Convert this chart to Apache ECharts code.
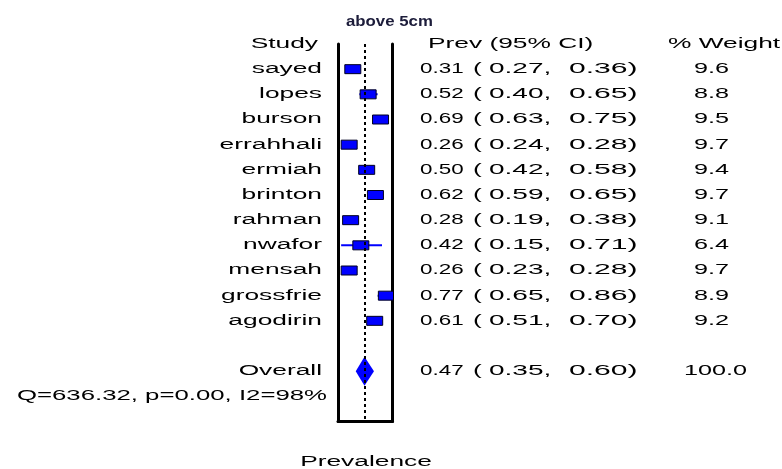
<!DOCTYPE html>
<html>
<head>
<meta charset="utf-8">
<script src="https://cdn.jsdelivr.net/npm/echarts/dist/echarts.min.js"></script>
<style>html,body{margin:0;padding:0;background:#fff}#c{width:782px;height:469px}</style>
</head>
<body>
<div id="c"></div>
<script>
const chartTitle = 'above 5cm';
const axisName = 'Prevalence';
const headerStudy = 'Study';
const headerPrev = 'Prev (95% CI)';
const headerWeight = '% Weight';
const studies = ['sayed','lopes','burson','errahhali','ermiah','brinton','rahman','nwafor','mensah','grossfrie','agodirin'];
const prev   = [0.31,0.52,0.69,0.26,0.50,0.62,0.28,0.42,0.26,0.77,0.61];
const lower  = [0.27,0.40,0.63,0.24,0.42,0.59,0.19,0.15,0.23,0.65,0.51];
const upper  = [0.36,0.65,0.75,0.28,0.58,0.65,0.38,0.71,0.28,0.86,0.70];
const weight = [9.6,8.8,9.5,9.7,9.4,9.7,9.1,6.4,9.7,8.9,9.2];
const overallLabel = 'Overall';
const overallPrev = 0.47, overallLower = 0.35, overallUpper = 0.60, overallWeight = 100.0;
const heterogeneity = 'Q=636.32, p=0.00, I2=98%';

const X_MIN = 0.107, X_MAX = 0.854;
const nStudies = studies.length;
const overallRow = nStudies + 2;
const qRow = nStudies + 3;
const yMax = nStudies + 4;

const FONT = "'Liberation Sans', Arial, sans-serif";
const SX = 1.88;
function txt(x, y, s, align, sx) {
  return {
    type: 'text', x: x, y: y, scaleX: sx || SX,
    style: { text: s, fill: '#000', fontSize: 14, fontFamily: FONT, align: align || 'left', verticalAlign: 'middle' }
  };
}
function ciTexts(y, e, l, h, w, wx) {
  return [
    txt(420, y, e.toFixed(2), 'left', 1.6),
    txt(473, y, '('),
    txt(489, y, l.toFixed(2) + ',', 'left', 2.0),
    txt(569, y, h.toFixed(2) + ')', 'left', 2.15),
    txt(wx, y, w.toFixed(1), 'left', 1.8)
  ];
}

const chart = echarts.init(document.getElementById('c'), null, {renderer: 'canvas'});
chart.setOption({
  animation: false,
  backgroundColor: '#fff',
  grid: { left: 338, top: 44, width: 54.5, height: 377.5 },
  xAxis: {
    type: 'value', min: X_MIN, max: X_MAX, position: 'bottom',
    axisLine: { show: true, onZero: false, lineStyle: { color: '#000', width: 3 } },
    axisTick: { show: false }, axisLabel: { show: false }, splitLine: { show: false }
  },
  yAxis: [
    { type: 'value', min: 0, max: yMax, inverse: true, position: 'left',
      axisLine: { show: true, onZero: false, lineStyle: { color: '#000', width: 3 } },
      axisTick: { show: false }, axisLabel: { show: false }, splitLine: { show: false } },
    { type: 'value', min: 0, max: yMax, inverse: true, position: 'right',
      axisLine: { show: true, onZero: false, lineStyle: { color: '#000', width: 3 } },
      axisTick: { show: false }, axisLabel: { show: false }, splitLine: { show: false } }
  ],
  graphic: [
    { type: 'text', x: 346, y: 22, scaleX: 1.2,
      style: { text: chartTitle, fill: '#1c1c3a', fontSize: 14, fontWeight: 'bold', fontFamily: FONT, align: 'left', verticalAlign: 'middle' } },
    { type: 'text', x: 366, y: 462, scaleX: SX,
      style: { text: axisName, fill: '#000', fontSize: 14, fontFamily: FONT, align: 'center', verticalAlign: 'middle' } }
  ],
  series: [
    {
      type: 'line', data: [], silent: true, z: 1,
      markLine: {
        silent: true, symbol: 'none', label: { show: false },
        lineStyle: { color: '#000', type: [3, 3], width: 2 },
        data: [{ xAxis: overallPrev }]
      }
    },
    {
      type: 'custom', z: 3, clip: true,
      data: studies.map((s, i) => [prev[i], lower[i], upper[i], i + 1]),
      renderItem: function (params, api) {
        const row = api.value(3);
        const pe = api.coord([api.value(0), row]);
        const pl = api.coord([api.value(1), row]);
        const ph = api.coord([api.value(2), row]);
        return { type: 'group', children: [
          { type: 'line', shape: { x1: pl[0], y1: pl[1], x2: ph[0], y2: ph[1] },
            style: { stroke: '#0000ff', lineWidth: 2 } },
          { type: 'rect', shape: { x: pe[0] - 8, y: pe[1] - 4.5, width: 16, height: 9 },
            style: { fill: '#0000ff', stroke: '#000020', lineWidth: 1 } }
        ]};
      }
    },
    {
      type: 'custom', z: 3, clip: true,
      data: [[overallPrev, overallLower, overallUpper, overallRow]],
      renderItem: function (params, api) {
        const row = api.value(3);
        const pe = api.coord([api.value(0), row]);
        const pl = api.coord([api.value(1), row]);
        const ph = api.coord([api.value(2), row]);
        const hh = 14.5;
        return { type: 'polygon',
          shape: { points: [[pl[0], pl[1]], [pe[0], pe[1] - hh], [ph[0], ph[1]], [pe[0], pe[1] + hh]] },
          style: { fill: '#0000ff' } };
      }
    },
    {
      type: 'custom', z: 5, clip: false, silent: true,
      data: studies.map((s, i) => [X_MIN, i + 1]),
      renderItem: function (params, api) {
        const i = params.dataIndex;
        const y = api.coord([X_MIN, api.value(1)])[1];
        return { type: 'group', children:
          [txt(322, y, studies[i], 'right')].concat(ciTexts(y, prev[i], lower[i], upper[i], weight[i], 694)) };
      }
    },
    {
      type: 'custom', z: 5, clip: false, silent: true,
      data: [[X_MIN, 0]],
      renderItem: function (params, api) {
        const y0 = api.coord([X_MIN, 0])[1];
        const yo = api.coord([X_MIN, overallRow])[1];
        const yq = api.coord([X_MIN, qRow])[1];
        return { type: 'group', children: [
          txt(318, y0, headerStudy, 'right'),
          txt(428, y0, headerPrev),
          txt(668, y0, headerWeight),
          txt(322, yo, overallLabel, 'right'),
          txt(327, yq, heterogeneity, 'right', 1.84)
        ].concat(ciTexts(yo, overallPrev, overallLower, overallUpper, overallWeight, 684)) };
      }
    }
  ]
});
</script>
</body>
</html>
